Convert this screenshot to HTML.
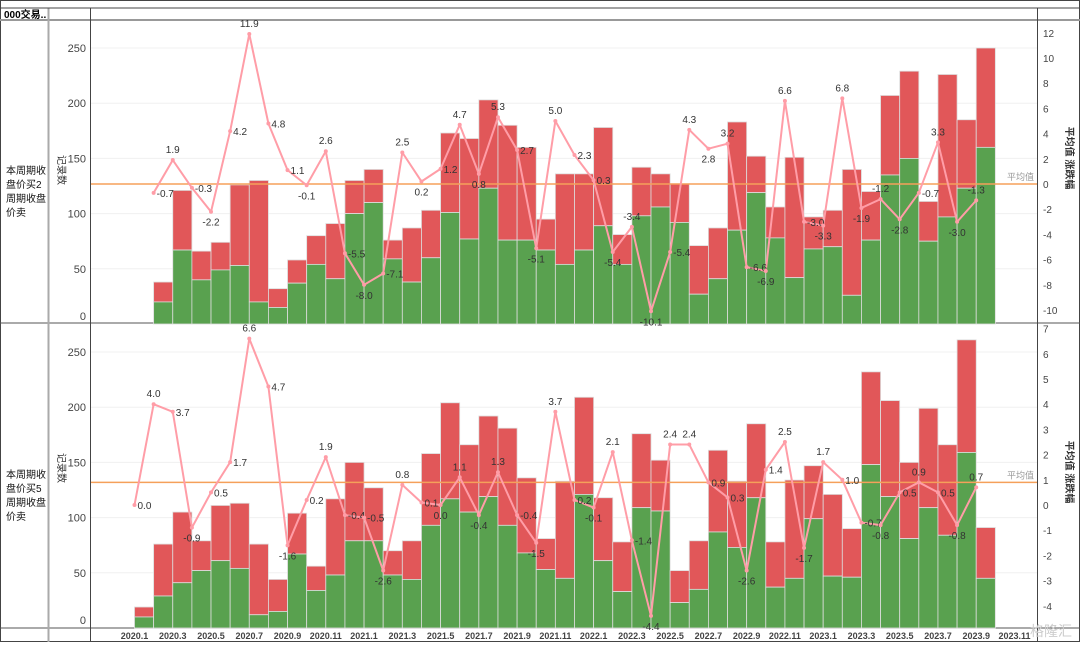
<!DOCTYPE html>
<html><head><meta charset="utf-8">
<style>
html,body{margin:0;padding:0;background:#fff;}
body{width:1080px;height:642px;overflow:hidden;font-family:"Liberation Sans","Noto Sans CJK SC",sans-serif;}
svg text{font-family:"Liberation Sans","Noto Sans CJK SC",sans-serif;}
</style></head>
<body>
<svg id="chart" width="1080" height="642" viewBox="0 0 1080 642" xmlns="http://www.w3.org/2000/svg">
  <g id="frame">
    <rect x="0.5" y="0.5" width="1079" height="641" fill="none" stroke="#444" stroke-width="1"/>
    <line x1="0" y1="20" x2="1080" y2="20" stroke="#999" stroke-width="2"/>
    <line x1="0" y1="323" x2="1080" y2="323" stroke="#555" stroke-width="1"/>
    <line x1="0" y1="628" x2="1080" y2="628" stroke="#555" stroke-width="1"/>
    <line x1="48.5" y1="8" x2="48.5" y2="642" stroke="#aaa" stroke-width="2"/>
    <line x1="90.5" y1="8" x2="90.5" y2="642" stroke="#444" stroke-width="1"/>
    <line x1="1037.5" y1="8" x2="1037.5" y2="642" stroke="#444" stroke-width="1"/>
    <line x1="0" y1="8" x2="1080" y2="8" stroke="#444" stroke-width="1"/>
    <text x="4" y="18" font-size="10" font-weight="bold" fill="#000">000交易..</text>
    <text font-size="10" fill="#111"><tspan x="6" y="174">本周期收</tspan><tspan x="6" y="188">盘价买2</tspan><tspan x="6" y="202">周期收盘</tspan><tspan x="6" y="216">价卖</tspan></text>
    <text font-size="10" fill="#111"><tspan x="6" y="478">本周期收</tspan><tspan x="6" y="492">盘价买5</tspan><tspan x="6" y="506">周期收盘</tspan><tspan x="6" y="520">价卖</tspan></text>
    <text transform="translate(58,170) rotate(90)" text-anchor="middle" font-size="10" fill="#333">记录数</text>
    <text transform="translate(58,468) rotate(90)" text-anchor="middle" font-size="10" fill="#333">记录数</text>
    <text transform="translate(1066,158) rotate(90)" text-anchor="middle" font-size="10" font-weight="bold" fill="#333">平均值 涨跌幅</text>
    <text transform="translate(1066,472) rotate(90)" text-anchor="middle" font-size="10" font-weight="bold" fill="#333">平均值 涨跌幅</text>
    <text x="1030" y="636" font-size="14" fill="#ccc">格隆汇</text>
  </g>
  <g id="panels"></g>
</svg>
<script>
// x positions: month index 0 = 2020.1
const xTickLabels = ["2020.1","2020.3","2020.5","2020.7","2020.9","2020.11","2021.1","2021.3","2021.5","2021.7","2021.9","2021.11","2022.1","2022.3","2022.5","2022.7","2022.9","2022.11","2023.1","2023.3","2023.5","2023.7","2023.9","2023.11"];
const leftTicks = [0,50,100,150,200,250];
const rightTicks1 = [12,10,8,6,4,2,0,-2,-4,-6,-8,-10];
const rightTicks2 = [7,6,5,4,3,2,1,0,-1,-2,-3,-4];
const start1 = 1;
const total1 = [38,121,66,74,126,130,32,58,80,91,130,140,76,87,103,173,168,203,180,160,95,136,136,178,81,142,136,127,71,87,183,152,106,151,97,103,140,120,207,229,111,226,185,250];
const green1 = [20,67,40,49,53,20,15,37,54,41,100,110,59,38,60,101,77,123,76,76,67,54,67,89,54,98,106,92,27,41,85,119,78,42,68,70,26,76,135,150,75,97,123,160];
const line1 = [-0.7,1.9,-0.3,-2.2,4.2,11.9,4.8,1.1,-0.1,2.6,-5.5,-8.0,-7.1,2.5,0.2,1.2,4.7,0.8,5.3,2.7,-5.1,5.0,2.3,0.3,-5.4,-3.4,-10.1,-5.4,4.3,2.8,3.2,-6.6,-6.9,6.6,-3.0,-3.3,6.8,-1.9,-1.2,-2.8,-0.7,3.3,-3.0,-1.3];
const avg1 = 0.0;
const start2 = 0;
const total2 = [19,76,105,79,111,113,76,44,104,56,117,150,127,70,79,158,204,166,192,181,136,81,133,209,118,78,176,152,52,79,161,133,185,78,134,147,121,90,232,206,150,199,166,261,91];
const green2 = [10,29,41,52,61,54,12,15,67,34,48,79,79,48,44,93,117,105,119,93,68,53,45,121,61,33,109,106,23,35,87,73,118,37,45,99,47,46,148,119,81,109,84,159,45];
const line2 = [0.0,4.0,3.7,-0.9,0.5,1.7,6.6,4.7,-1.6,0.2,1.9,-0.4,-0.5,-2.6,0.8,0.1,0.0,1.1,-0.4,1.3,-0.4,-1.5,3.7,0.2,-0.1,2.1,-1.4,-4.4,2.4,2.4,0.9,0.3,-2.6,1.4,2.5,-1.7,1.7,1.0,-0.7,-0.8,0.5,0.9,0.5,-0.8,0.7];
const avg2 = 0.9;

const NS = "http://www.w3.org/2000/svg";
const X0 = 134.5, STEP = 19.13;
function xScale(i){ return X0 + i*STEP; }
function mk(tag, attrs, parent){
  const el = document.createElementNS(NS, tag);
  for (const k in attrs) el.setAttribute(k, attrs[k]);
  parent.appendChild(el); return el;
}
const root = document.getElementById('panels');

function drawPanel(p){
  const g = mk('g', {}, root);
  
  
  const yL = v => p.base - v * (55.2/50);
  const yR = v => p.zeroR - v * p.unitR;
  // gridlines + left ticks
  leftTicks.forEach((t, k) => {
    if (t > 0) {
      const gl = mk('line', {x1:91, x2:1037, y1:yL(t), y2:yL(t), stroke:'#f0f0f0', 'stroke-width':1}, g);
      
      
    }
    const ty = t === 0 ? p.base - 4 : yL(t) + 4;
    const tx = mk('text', {x:86, y:ty, 'text-anchor':'end', 'font-size':11, fill:'#444'}, g);
    
    
    tx.textContent = t;
  });
  p.rticks.forEach(t => {
    const tx = mk('text', {x:1043, y:yR(t)+4, 'font-size':10, fill:'#444'}, g);
    
    
    tx.textContent = t;
  });
  // bars
  p.total.forEach((tv, k) => {
    const i = p.start + k;
    const x = xScale(i), w = STEP;
    const gv = p.green[k];
    const r = mk('rect', {x:x, y:yL(tv), width:w, height:yL(gv)-yL(tv), fill:'#e15759', stroke:'#ddd', 'stroke-width':0.8}, g);
    
    
    const gr = mk('rect', {x:x, y:yL(gv), width:w, height:p.base-yL(gv), fill:'#59a14f', stroke:'#ddd', 'stroke-width':0.8}, g);
    
    
  });
  // average line
  const al = mk('line', {x1:91, x2:1037, y1:yR(p.avg), y2:yR(p.avg), stroke:'#f5a05a', 'stroke-width':1.5}, g);
  
  
  const at = mk('text', {x:1034, y:yR(p.avg)-4, 'text-anchor':'end', 'font-size':9, fill:'#999'}, g);
  
  
  at.textContent = '平均值';
  // line
  const pts = p.line.map((v, k) => xScale(p.start + k) + ',' + yR(v)).join(' ');
  const pl = mk('polyline', {points:pts, fill:'none', stroke:'#ff9da7', 'stroke-width':2, 'stroke-linejoin':'round'}, g);
  
  
  p.line.forEach((v, k) => {
    const x = xScale(p.start + k), y = yR(v);
    const c = mk('circle', {cx:x, cy:y, r:2, fill:'#ff9da7'}, g);
    
    
    const prev = k > 0 ? p.line[k-1] : v - 1, next = k < p.line.length-1 ? p.line[k+1] : v - 1;
    let ly, lx = x, anchor = 'middle';
    if (v >= prev && v >= next) ly = y - 7;
    else if (v <= prev && v <= next) ly = y + 14;
    else { ly = y + 4; lx = x + 3; anchor = 'start'; }
    const lt = mk('text', {x:lx, y:ly, 'text-anchor':anchor, 'font-size':10, fill:'#333'}, g);
    
    
    lt.textContent = v.toFixed(1);
  });
}
drawPanel({id:1, start:start1, total:total1, green:green1, line:line1, avg:avg1, base:324, zeroR:184, unitR:12.6, rticks:rightTicks1});
drawPanel({id:2, start:start2, total:total2, green:green2, line:line2, avg:avg2, base:628, zeroR:505, unitR:25.2, rticks:rightTicks2});
// x axis labels
const xg = mk('g', {}, root);


xTickLabels.forEach((lab, k) => {
  const t = mk('text', {x:xScale(k*2), y:639, 'text-anchor':'middle', 'font-size':9, 'font-weight':'bold', fill:'#444'}, xg);
  
  
  t.textContent = lab;
});
</script>
</body></html>
